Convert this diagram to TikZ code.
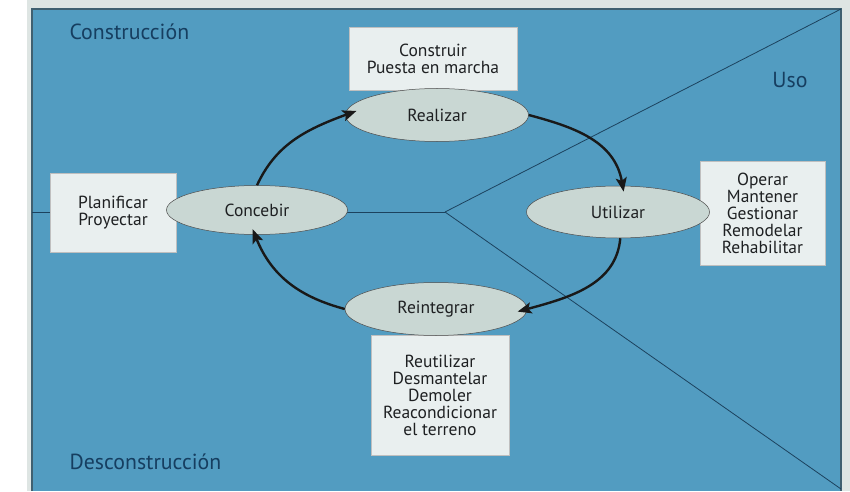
\documentclass[tikz,border=0pt]{standalone}
\usepackage{fontspec}
\setmainfont{PT Sans}
\usepackage{xcolor}
\usetikzlibrary{arrows.meta,shapes.geometric}

\definecolor{panelblue}{RGB}{82,156,193}
\definecolor{paneledge}{RGB}{64,96,112}
\definecolor{outergray}{RGB}{222,229,227}
\definecolor{ovalfill}{RGB}{201,215,211}
\definecolor{boxfill}{RGB}{233,239,239}
\definecolor{divline}{RGB}{28,66,94}
\definecolor{regiontext}{RGB}{22,62,96}
\definecolor{phasetext}{RGB}{30,32,34}

\begin{document}
\begin{tikzpicture}[x=1pt, y=1pt,
  phase/.style={ellipse, draw=black!70, line width=0.5pt, fill=ovalfill,
    inner sep=0pt, text=phasetext, font=\fontsize{17.5}{17}\selectfont},
  taskbox/.style={rectangle, draw=black!25, line width=0.4pt, fill=boxfill,
    inner sep=0pt, align=center, text=phasetext, font=\fontsize{17.5}{17}\selectfont},
  region/.style={text=regiontext, font=\fontsize{21.8}{24}\selectfont},
  cycle/.style={-{Stealth[length=14pt, width=11pt, inset=3pt]}, line width=2.4pt, black!90}]
  \useasboundingbox (0,0) rectangle (850,491);

  % Frame and panel
  \fill[white] (0,0) rectangle (850,491);
  \fill[outergray] (27,0) rectangle (850,491);
  \fill[panelblue] (32,0) rectangle (841,482);
  \draw[paneledge, line width=1.6pt] (32,0) -- (32,482) -- (841,482) -- (841,0);

  % Dividing lines
  \coordinate (hub) at (445,279);
  \draw[divline, line width=0.8pt] (32,279) -- (hub);
  \draw[divline, line width=0.8pt] (hub) -- (841,482);
  \draw[divline, line width=0.8pt] (hub) -- (841,2);

  % Region labels
  \node[region, anchor=west] (construccion) at (66,459) {Construcción};
  \node[region] (uso) at (790,411) {Uso};
  \node[region, anchor=west] (desconstruccion) at (66,29) {Desconstrucción};

  % Task boxes
  \node[taskbox, minimum width=168, minimum height=63] (construir) at (433,432.5)
    {Construir\\Puesta en marcha};
  \node[taskbox, minimum width=126, minimum height=79] (planificar) at (113,278.5)
    {Planificar\\Proyectar};
  \node[taskbox, minimum width=125, minimum height=104] (operar) at (762.5,278)
    {Operar\\Mantener\\Gestionar\\Remodelar\\Rehabilitar};
  \node[taskbox, minimum width=138, minimum height=120] (reutilizar) at (440,96)
    {Reutilizar\\Desmantelar\\Demoler\\Reacondicionar\\el terreno};

  % Phases
  \node[phase, minimum width=181, minimum height=49] (concebir) at (257,281) {Concebir};
  \node[phase, minimum width=183, minimum height=53] (realizar) at (437,376) {Realizar};
  \node[phase, minimum width=183, minimum height=52] (utilizar) at (618,279) {Utilizar};
  \node[phase, minimum width=182, minimum height=53] (reintegrar) at (436,182) {Reintegrar};

  % Life cycle arrows
  \draw[cycle, shorten >=-12pt] (concebir.north) to[out=65, in=200] (realizar.west);
  \draw[cycle, shorten >=-6pt] (realizar.east) to[out=-15, in=100] (utilizar.80);
  \draw[cycle, shorten >=-10pt] (utilizar.-85) to[out=-95, in=15] (reintegrar.east);
  \draw[cycle, shorten >=-6pt] (reintegrar.west) to[out=165, in=-68] (concebir.-95);
\end{tikzpicture}
\end{document}
